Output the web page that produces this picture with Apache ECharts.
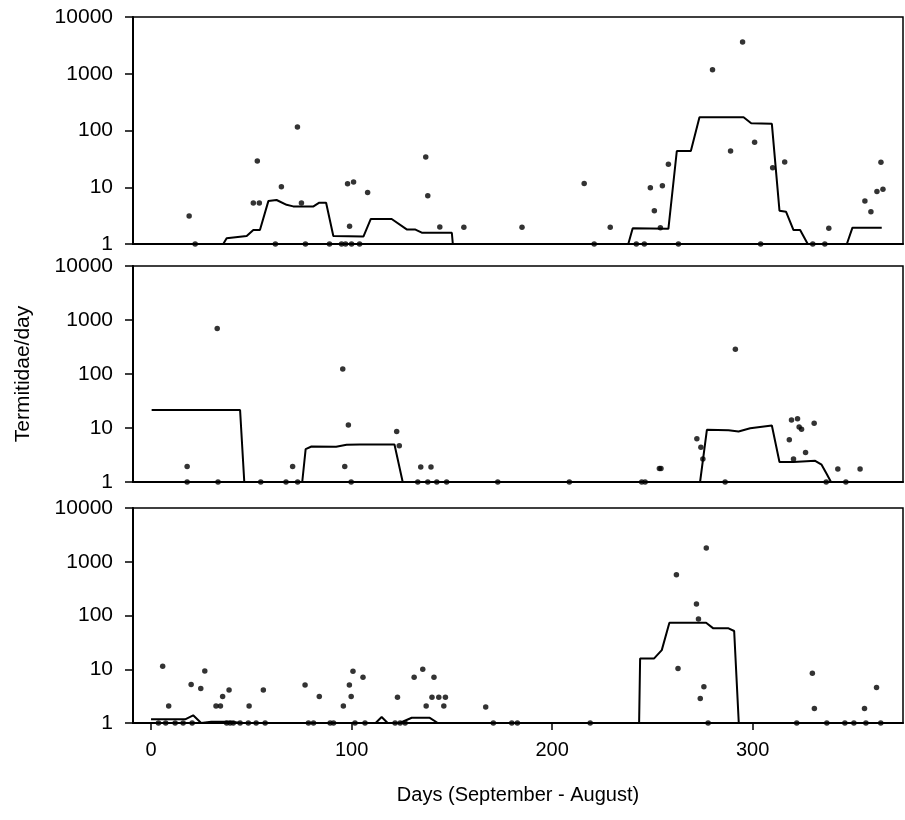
<!DOCTYPE html>
<html>
<head>
<meta charset="utf-8">
<script src="https://cdn.jsdelivr.net/npm/echarts@6/dist/echarts.min.js"></script>
<style>
  html, body { margin: 0; padding: 0; background: #fff; }
  #chart { width: 905px; height: 820px; }
</style>
</head>
<body>
<div id="chart"></div>
<script>
// x ticks and y decades
var xTicks = [0, 100, 200, 300];
var yTicks = [1, 10, 100, 1000, 10000];

// top panel: daily catches (dots) and running mean (line), [day, value]
var topDots = [
  [19, 3.1], [22, 1], [51, 5.3], [53, 29], [54, 5.3], [62, 1], [65, 10.2], [73, 115], [75, 5.3],
  [77, 1], [89, 1], [95, 1], [97, 1], [98, 11.5], [99, 2.05], [100, 1], [101, 12.4], [104, 1],
  [108, 8.1], [137, 34], [138, 7.1], [144, 2], [156, 1.97], [185, 1.97], [216, 11.7], [221, 1],
  [229, 1.97], [242, 1], [246, 1], [249, 9.8], [251, 3.86], [254, 1.94], [255, 10.6], [258, 25.4],
  [263, 1], [280, 1180], [289, 43.5], [295, 3630], [301, 62], [304, 1], [310, 22], [316, 27.9],
  [330, 1], [336, 1], [338, 1.89], [356, 5.7], [359, 3.7], [362, 8.4], [364, 27.5], [365, 9.2]
];
var topLine = [
  [36, 1], [37.7, 1.26], [47.7, 1.38], [51, 1.76], [54.3, 1.76], [58.5, 5.7], [62.6, 5.96],
  [67.6, 4.9], [70.9, 4.6], [81, 4.6], [83.9, 5.35], [87.3, 5.35], [90.9, 1.38], [105.9, 1.35],
  [109.6, 2.76], [120, 2.76], [127.5, 1.81], [131.6, 1.81], [135, 1.58], [150, 1.58], [150.5, 1],
  [238, 1], [240.2, 1.89], [258, 1.85], [262.2, 43.5], [269.2, 43.5], [273.5, 171], [295.5, 171],
  [299.3, 134], [309.6, 131], [313.4, 3.86], [316.7, 3.7], [320.4, 1.76], [323.7, 1.76],
  [327.5, 1], [347, 1], [349.8, 1.94], [364.4, 1.94]
];

// middle panel
var midDots = [
  [18, 1.94], [18, 1], [33, 698], [33.4, 1], [54.7, 1], [67.3, 1], [70.6, 1.94], [73.1, 1],
  [95.6, 124], [96.6, 1.94], [98.4, 11.4], [99.8, 1], [122.5, 8.6], [123.8, 4.7], [133, 1],
  [134.5, 1.89], [138, 1], [139.6, 1.89], [142.5, 1], [147.4, 1], [172.9, 1], [208.6, 1],
  [244.7, 1], [246.4, 1], [253.5, 1.78], [254.3, 1.78], [272.2, 6.3], [274.2, 4.4], [275.2, 2.66],
  [286.3, 1], [291.4, 286], [318.3, 6.05], [319.4, 14.1], [320.4, 2.66], [322.4, 14.9],
  [323.2, 10.4], [324.4, 9.5], [326.4, 3.52], [330.7, 12.3], [336.7, 1], [342.5, 1.74],
  [346.5, 1], [353.6, 1.74]
];
var midLine = [
  [0.3, 21.6], [44.4, 21.6], [46.5, 1], [75.4, 1], [77.1, 4.07], [80, 4.54], [92.3, 4.5],
  [97.5, 4.88], [104.1, 4.95], [121.4, 4.95], [125.5, 1], [273.8, 1], [277.2, 9.25], [288, 9.1],
  [293, 8.6], [298.8, 9.9], [309.6, 11.1], [313.4, 2.34], [320.4, 2.34], [331.2, 2.47],
  [334.4, 2.09], [336.9, 1.42], [339.1, 1]
];

// bottom panel
var botDots = [
  [3.7, 1], [5.8, 11.4], [7.3, 1], [8.8, 2.07], [12, 1], [16, 1], [20, 5.2], [20.5, 1], [24.8, 4.4],
  [26.8, 9.3], [32.4, 2.07], [34.6, 2.07], [35.7, 3.1], [37.7, 1], [38.9, 4.1], [39.4, 1], [41, 1],
  [44.4, 1], [48.5, 1], [48.9, 2.07], [52.4, 1], [56, 4.1], [56.9, 1], [76.8, 5.1], [78.5, 1],
  [81, 1], [83.9, 3.1], [89.3, 1], [91, 1], [95.9, 2.07], [98.9, 5.1], [99.8, 3.1], [100.7, 9.2],
  [101.7, 1], [105.7, 7.1], [106.7, 1], [121.7, 1], [122.9, 3.0], [124.2, 1], [126.7, 1],
  [131.2, 7.1], [135.5, 10.0], [137.2, 2.07], [140.1, 3.0], [141.1, 7.1], [143.5, 3.0], [146, 2.07],
  [146.8, 3.0], [166.9, 1.99], [170.7, 1], [179.9, 1], [182.7, 1], [219, 1], [262, 570],
  [262.8, 10.3], [272, 164], [273, 86], [273.9, 2.85], [275.7, 4.7], [276.9, 1795], [277.8, 1],
  [322, 1], [329.8, 8.4], [330.8, 1.86], [337, 1], [346, 1], [350.5, 1], [355.8, 1.86],
  [356.5, 1], [361.8, 4.6], [363.9, 1]
];
var botLine = [
  [0, 1.17], [17, 1.17], [21, 1.39], [25, 1.0], [30, 1.06], [40, 1.05], [45, 1.0], [112, 1.0],
  [115, 1.29], [118, 1.0], [124, 1.0], [130, 1.25], [139, 1.25], [143, 1.0], [243.4, 1],
  [243.9, 15.9], [250.9, 15.9], [254.7, 22.7], [258.5, 73.4], [276.8, 73.4], [280.4, 57.7],
  [288, 57.7], [290.8, 51.5], [293.1, 1]
];

var font = '"Liberation Sans", Arial, sans-serif';
var chart = echarts.init(document.getElementById('chart'));

var grids = [
  { left: 133, top: 17, width: 770, height: 227 },
  { left: 133, top: 266, width: 770, height: 216 },
  { left: 133, top: 508, width: 770, height: 215 }
];

function makeX(i) {
  var last = i === 2;
  return {
    type: 'value', gridIndex: i, min: -9, max: 375,
    axisLine: { show: true, onZero: false, lineStyle: { color: '#000', width: 2 } },
    axisTick: { show: last, length: 7, lineStyle: { color: '#000', width: 1.5 }, customValues: xTicks },
    axisLabel: { show: last, customValues: xTicks, margin: 17, color: '#000', fontSize: 20, fontFamily: font },
    splitLine: { show: false },
    name: last ? 'Days (September - August)' : '',
    nameLocation: 'middle', nameGap: 62,
    nameTextStyle: { color: '#000', fontSize: 20, fontFamily: font }
  };
}
function makeY(i) {
  return {
    type: 'log', logBase: 10, gridIndex: i, min: 1, max: 10000,
    axisLine: { show: true, onZero: false, lineStyle: { color: '#000', width: 2 } },
    axisTick: { show: true, length: 8, lineStyle: { color: '#000', width: 1.5 }, customValues: yTicks },
    axisLabel: {
      customValues: yTicks, margin: 20, color: '#000', fontSize: 21, fontFamily: font,
      formatter: function (v) { return String(Math.round(v)); }
    },
    splitLine: { show: false },
    minorTick: { show: false },
    name: i === 1 ? 'Termitidae/day' : '',
    nameLocation: 'middle', nameGap: 99, nameRotate: 90,
    nameTextStyle: { color: '#000', fontSize: 21, fontFamily: font }
  };
}

function dots(data, i) {
  return { type: 'scatter', xAxisIndex: i, yAxisIndex: i, data: data, symbolSize: 5.5,
    itemStyle: { color: '#000' }, clip: false, silent: true };
}
function line(data, i) {
  return { type: 'line', xAxisIndex: i, yAxisIndex: i, data: data, showSymbol: false,
    lineStyle: { color: '#000', width: 2 }, clip: true, silent: true };
}

chart.setOption({
  animation: false,
  backgroundColor: '#fff',
  grid: grids.map(function (g) {
    return Object.assign({ show: true, borderColor: '#000', borderWidth: 1.5, backgroundColor: 'transparent' }, g);
  }),
  xAxis: [makeX(0), makeX(1), makeX(2)],
  yAxis: [makeY(0), makeY(1), makeY(2)],
  series: [
    line(topLine, 0), dots(topDots, 0),
    line(midLine, 1), dots(midDots, 1),
    line(botLine, 2), dots(botDots, 2)
  ]
});
</script>
</body>
</html>
